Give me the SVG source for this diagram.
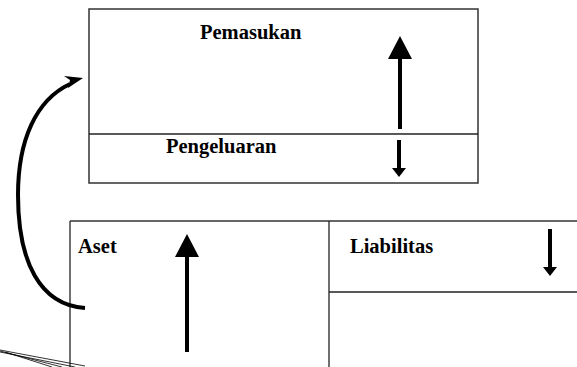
<svg xmlns="http://www.w3.org/2000/svg" width="577" height="367" viewBox="0 0 577 367">
<style>
.box{fill:none;stroke:#333;stroke-width:1.5}
.ln{stroke:#222;stroke-width:1.3;fill:none}
.lbl{font-family:"Liberation Serif","Times New Roman",serif;font-weight:bold;font-size:20.5px;fill:#000}
.arr{fill:#000}
.thin{stroke:#000;stroke-width:0.8;fill:none}
</style>
<rect width="577" height="367" fill="#fff"/>
<g id="top-box">
<rect class="box" x="89" y="9" width="389" height="174"/>
<line class="ln" x1="89" y1="134" x2="478" y2="134"/>
</g>
<g id="pemasukan">
<text class="lbl" x="200" y="39">Pemasukan</text>
<polygon class="arr" points="400,36 412,59 402,59 402,129 398,129 398,59 388,59"/>
</g>
<g id="pengeluaran">
<text class="lbl" x="166" y="153">Pengeluaran</text>
<polygon class="arr" points="397,140 401,140 401,168 406,168 399,177 392,168 397,168"/>
</g>
<g id="aset">
<line class="ln" x1="70" y1="221" x2="70" y2="367"/>
<line class="box" x1="70" y1="221" x2="577" y2="221"/>
<text class="lbl" x="78" y="253">Aset</text>
<polygon class="arr" points="187,234 199,257 189,257 189,352 185,352 185,257 175,257"/>
</g>
<g id="liabilitas">
<line class="ln" x1="329" y1="221" x2="329" y2="367"/>
<line class="ln" x1="329" y1="292" x2="577" y2="292"/>
<text class="lbl" x="350" y="253">Liabilitas</text>
<polygon class="arr" points="548,229 552,229 552,267 557,267 550,276 543,267 548,267"/>
</g>
<g id="connectors">
<path d="M85,308 C40,305 18,262 18,195 C18,140 36,100 70,84" fill="none" stroke="#000" stroke-width="4"/>
<polygon class="arr" points="83,78 68,88 70,80 64,76"/>
<line class="thin" x1="0" y1="350" x2="85" y2="366"/>
<line class="thin" x1="0" y1="352" x2="75" y2="367"/>
<line class="thin" x1="5" y1="352" x2="52" y2="367"/>
<line class="thin" x1="0" y1="351" x2="62" y2="367"/>
</g>
</svg>
